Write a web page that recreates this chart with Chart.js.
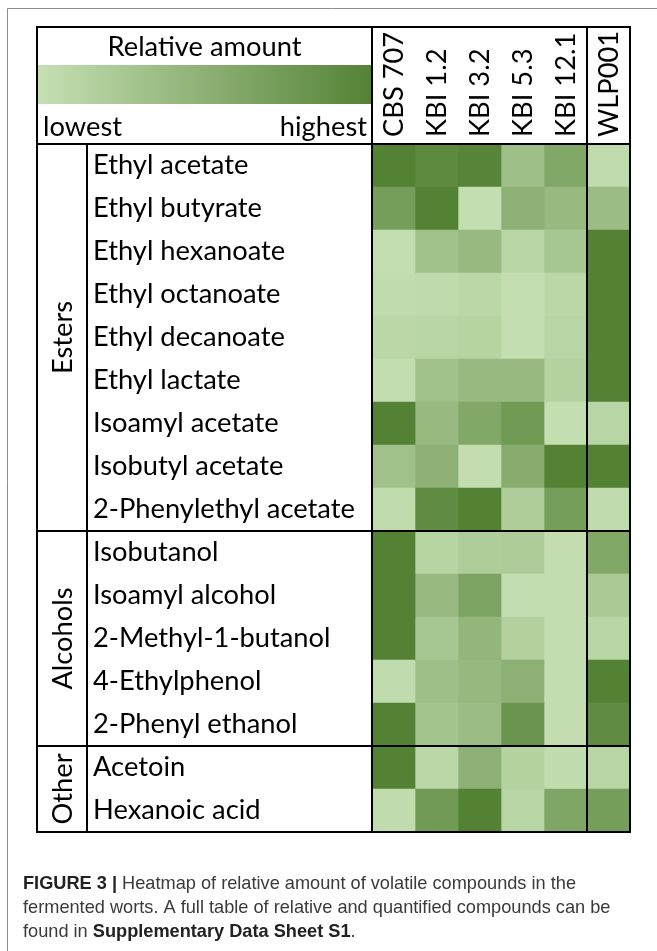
<!DOCTYPE html>
<html><head><meta charset="utf-8">
<script src="https://cdn.jsdelivr.net/npm/chart.js@4"></script>
<style>html,body{margin:0;padding:0;background:#fff;overflow:hidden}canvas{display:block}</style>
</head><body>
<canvas id="c" width="657" height="951" style="width:657px;height:951px"></canvas>
<script>
// ---- data ----
const compounds = ['Ethyl acetate','Ethyl butyrate','Ethyl hexanoate','Ethyl octanoate','Ethyl decanoate','Ethyl lactate','Isoamyl acetate','Isobutyl acetate','2-Phenylethyl acetate','Isobutanol','Isoamyl alcohol','2-Methyl-1-butanol','4-Ethylphenol','2-Phenyl ethanol','Acetoin','Hexanoic acid'];
const strains = ['CBS 707','KBI 1.2','KBI 3.2','KBI 5.3','KBI 12.1','WLP001'];
const groupNames = ['Esters','Alcohols','Other'];
const groupSizes = [9,5,2];
// relative amount, 0 = lowest, 1 = highest (per compound)
const cbs707 = [1.00,0.70,0.02,0.04,0.10,0.03,1.00,0.33,0.05,1.00,1.00,1.00,0.05,1.00,1.00,0.04];
const kbi12  = [0.92,1.00,0.33,0.06,0.12,0.33,0.40,0.50,0.90,0.13,0.40,0.27,0.35,0.30,0.10,0.75];
const kbi32  = [0.98,0.02,0.40,0.10,0.14,0.40,0.60,0.03,1.00,0.20,0.65,0.45,0.42,0.38,0.50,1.00];
const kbi53  = [0.35,0.50,0.12,0.02,0.02,0.40,0.75,0.55,0.20,0.22,0.03,0.17,0.50,0.80,0.15,0.12];
const kbi121 = [0.60,0.40,0.27,0.10,0.12,0.15,0.02,1.00,0.70,0.03,0.03,0.03,0.03,0.03,0.04,0.62];
const wlp001 = [0.05,0.38,1.00,1.00,1.00,1.00,0.12,1.00,0.05,0.60,0.25,0.12,1.00,0.90,0.12,0.70];
const seriesValues = [cbs707,kbi12,kbi32,kbi53,kbi121,wlp001];
const legendTitle = 'Relative amount', legendLow = 'lowest', legendHigh = 'highest';
const captionLines = [
  [['FIGURE 3 | ',true],['Heatmap of relative amount of volatile compounds in the',false]],
  [['fermented worts. A full table of relative and quantified compounds can be',false]],
  [['found in ',false],['Supplementary Data Sheet S1',true],['.',false]]
];

// ---- styles ----
const LOW = [198,224,180], HIGH = [84,130,53];
function colorFor(v){
  const c = LOW.map((l,i)=>Math.round(l+(HIGH[i]-l)*v));
  return `rgb(${c[0]},${c[1]},${c[2]})`;
}
const FAMILY = 'Lato, "Open Sans", sans-serif';
const mctx = document.createElement('canvas').getContext('2d');
mctx.font = `100px ${FAMILY}`;
const FS = Math.round(100*262/mctx.measureText('2-Phenylethyl acetate').width*10)/10;

const LEFT = 37, TOP = 27;

const tablePlugin = {
  id:'tablePlugin',
  afterDraw(chart){
    const ctx = chart.ctx, a = chart.chartArea, xs = chart.scales.x, ys = chart.scales.y;
    const R = a.right, B = a.bottom;
    ctx.save();
    // outer gray frame
    ctx.strokeStyle = '#8c8c8c'; ctx.lineWidth = 1;
    ctx.beginPath(); ctx.moveTo(7.5, 960); ctx.lineTo(7.5, 8.5); ctx.lineTo(700, 8.5); ctx.stroke();
    // legend header
    ctx.fillStyle = '#000';
    ctx.font = `${FS}px ${FAMILY}`;
    ctx.textAlign = 'center'; ctx.textBaseline = 'middle';
    ctx.fillText(legendTitle, (LEFT + a.left)/2, 47);
    const g = ctx.createLinearGradient(LEFT, 0, a.left, 0);
    g.addColorStop(0, colorFor(0)); g.addColorStop(1, colorFor(1));
    ctx.fillStyle = g; ctx.fillRect(LEFT, 65, a.left - LEFT, 39);
    ctx.fillStyle = '#000';
    ctx.textBaseline = 'alphabetic';
    ctx.textAlign = 'left'; ctx.fillText(legendLow, 43, 136);
    ctx.textAlign = 'right'; ctx.fillText(legendHigh, a.left - 5, 136);
    // column labels (rotated, at scale centres)
    strains.forEach((s, j)=>{
      ctx.save();
      ctx.translate(xs.getPixelForValue(j + 0.5) + 1, 137);
      ctx.rotate(-Math.PI/2);
      ctx.textAlign = 'left'; ctx.textBaseline = 'middle';
      ctx.fillText(s, 0, 0);
      ctx.restore();
    });
    // group labels
    let start = 0;
    const bounds = [];
    groupNames.forEach((name,i)=>{
      const y0 = ys.getPixelForValue(start - 0.5), y1 = ys.getPixelForValue(start + groupSizes[i] - 0.5);
      ctx.save();
      ctx.translate(62, (y0+y1)/2); ctx.rotate(-Math.PI/2);
      ctx.textAlign = 'center'; ctx.textBaseline = 'middle';
      ctx.fillText(name, 0, 1);
      ctx.restore();
      start += groupSizes[i];
      if (i < groupNames.length-1) bounds.push(y1);
    });
    // lines
    ctx.strokeStyle = '#000'; ctx.lineWidth = 2;
    ctx.strokeRect(LEFT, TOP, R - LEFT, B - TOP);
    ctx.beginPath();
    ctx.moveTo(LEFT, a.top); ctx.lineTo(R, a.top);
    ctx.moveTo(a.left, TOP); ctx.lineTo(a.left, B);
    const xw = xs.getPixelForValue(5);
    ctx.moveTo(xw, TOP); ctx.lineTo(xw, B);
    ctx.moveTo(87, a.top); ctx.lineTo(87, B);
    bounds.forEach(y=>{ ctx.moveTo(LEFT, y); ctx.lineTo(R, y); });
    ctx.stroke();
    // caption
    ctx.textAlign = 'left'; ctx.textBaseline = 'alphabetic';
    const cy = [889, 913, 937];
    captionLines.forEach((line, li)=>{
      let x = 23;
      line.forEach(([t,b])=>{
        ctx.font = `${b?'bold ':''}18.2px "Liberation Sans", Arial, sans-serif`;
        ctx.fillStyle = b ? '#222' : '#3a3a3a';
        ctx.fillText(t, x, cy[li]);
        x += ctx.measureText(t).width;
      });
    });
    ctx.restore();
  }
};

const datasets = seriesValues.map((vals, j)=>({
  label: strains[j],
  data: compounds.map(()=>[j, j+1]),
  backgroundColor: vals.map(colorFor),
  borderWidth: 0,
  barPercentage: 1,
  categoryPercentage: 1,
  grouped: false
}));

new Chart(document.getElementById('c'), {
  type: 'bar',
  data: { labels: compounds, datasets },
  options: {
    indexAxis: 'y',
    responsive: false,
    animation: false,
    devicePixelRatio: 1,
    layout: { padding: { left: 93, top: 144, right: 27, bottom: 119 } },
    plugins: { legend: { display: false }, tooltip: { enabled: false } },
    scales: {
      x: { type: 'linear', min: 0, max: 6, display: false },
      y: {
        type: 'category', offset: true,
        grid: { display: false, drawTicks: false }, border: { display: false },
        ticks: { crossAlign: 'far', padding: 0, color: '#000', autoSkip: false, font: { family: FAMILY, size: FS } },
        afterFit(s){ s.width = 279; }
      }
    }
  },
  plugins: [tablePlugin]
});
</script>
</body></html>
